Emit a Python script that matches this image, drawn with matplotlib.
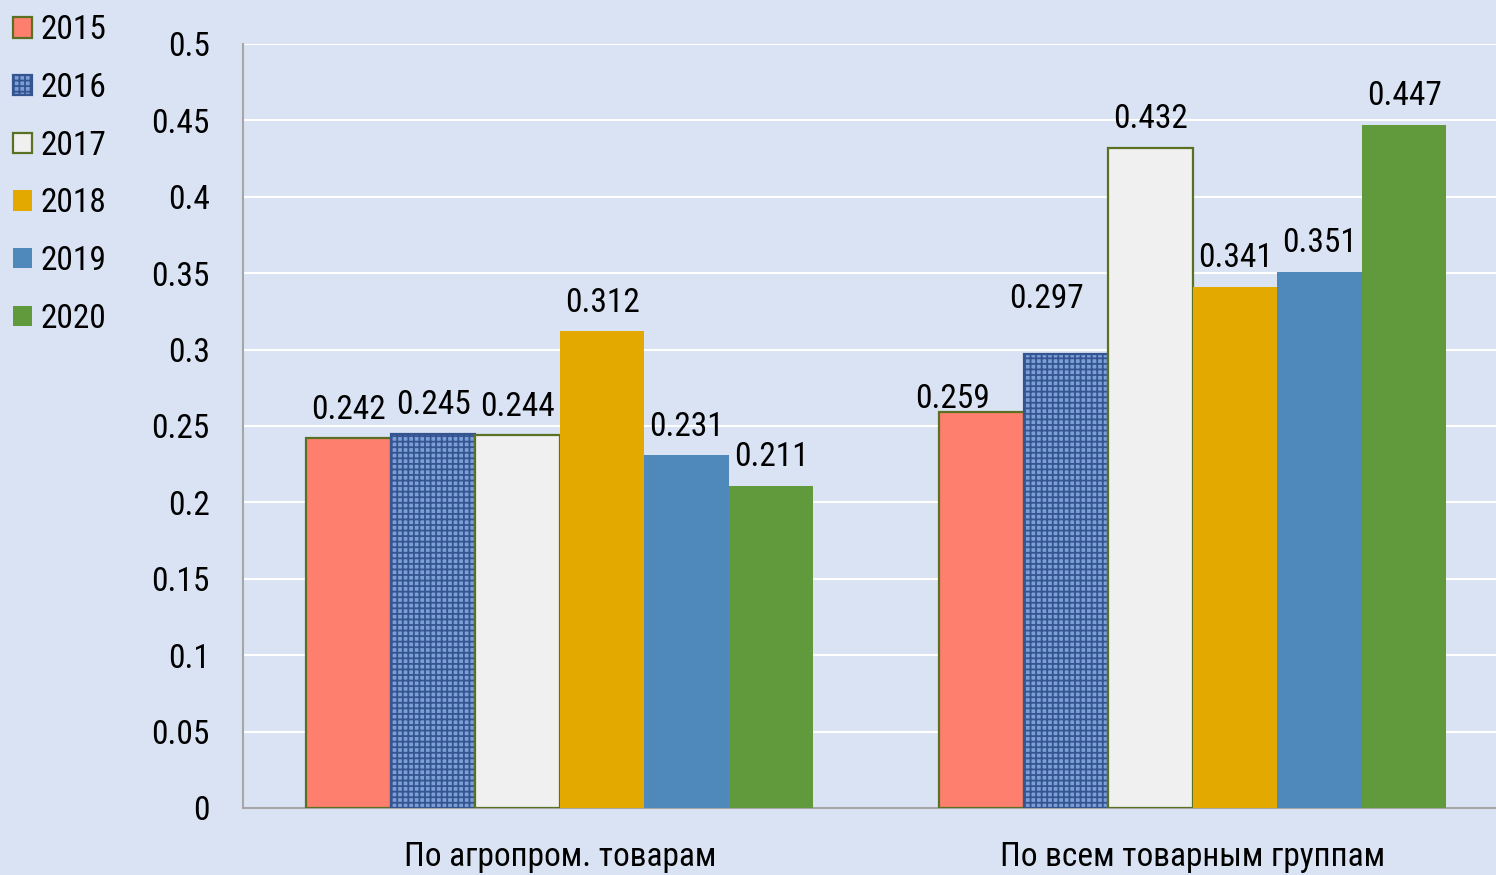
import numpy as np
import matplotlib
matplotlib.use("Agg")
import matplotlib.pyplot as plt
from matplotlib import font_manager

categories = ["По агропром. товарам", "По всем товарным группам"]
years = ["2015", "2016", "2017", "2018", "2019", "2020"]
values = {
    "2015": [0.242, 0.259],
    "2016": [0.245, 0.297],
    "2017": [0.244, 0.432],
    "2018": [0.312, 0.341],
    "2019": [0.231, 0.351],
    "2020": [0.211, 0.447],
}

fills = ["#ff7f6e", "#7d9fd8", "#f0f0f0", "#e3a900", "#4f88bb", "#619a3c"]
edges = ["#5a7023", "#34558f", "#5a7023", "none", "none", "none"]
hatches = [None, "+++", None, None, None, None]

# nudge a few labels like in the original (dx, dy in points)
nudges = {("2015", 1): (-21, -11), ("2016", 1): (-14, 19)}

# narrow font if there is one
names = {f.name for f in font_manager.fontManager.ttflist}
fsize = 24
if "Roboto Condensed" in names:
    plt.rcParams["font.family"] = ["Roboto Condensed", "DejaVu Sans"]
else:
    plt.rcParams["font.family"] = ["Liberation Sans", "DejaVu Sans"]
    fsize = 21
plt.rcParams["hatch.linewidth"] = 1.3

bg = "#dae3f3"
fig = plt.figure(figsize=(14.96, 8.75), dpi=100, facecolor=bg)
ax = fig.add_axes([243 / 1496, 1 - 808 / 875, 1 - 243 / 1496, (808 - 44) / 875])
ax.set_facecolor(bg)

x = np.arange(len(categories))
w = 0.1335
for i, yr in enumerate(years):
    pos = x + (i - 2.5) * w
    kw = dict(color=fills[i], edgecolor=edges[i], linewidth=1.6, label=yr, zorder=3)
    if hatches[i]:
        kw["hatch"] = hatches[i]
    bars = ax.bar(pos, values[yr], w, **kw)
    for j, b in enumerate(bars):
        dx, dy = nudges.get((yr, j), (0, 0))
        ax.annotate(f"{values[yr][j]:.3f}", (b.get_x() + b.get_width() / 2, b.get_height()),
                    xytext=(dx, 9 + dy), textcoords="offset points",
                    ha="center", va="bottom", fontsize=fsize, zorder=4)

ax.set_ylim(0, 0.5)
ax.set_xlim(-0.5008, 1.479)
ax.set_yticks(np.arange(0, 0.51, 0.05))
ax.set_yticklabels(["0", "0.05", "0.1", "0.15", "0.2", "0.25", "0.3", "0.35", "0.4", "0.45", "0.5"])
ax.set_xticks(x)
ax.set_xticklabels(categories)
ax.tick_params(axis="y", length=0, labelsize=fsize, pad=24)
ax.tick_params(axis="x", length=0, labelsize=fsize, pad=24)
ax.grid(axis="y", color="white", linewidth=1.5, zorder=0)
ax.set_axisbelow(True)
for s in ["top", "right"]:
    ax.spines[s].set_visible(False)
for s in ["left", "bottom"]:
    ax.spines[s].set_color("#a6a6a6")
    ax.spines[s].set_linewidth(1.5)

fig.legend(loc="upper left", bbox_to_anchor=(0.0, 0.999), frameon=False, fontsize=fsize,
           handlelength=0.57, handleheight=0.57, handletextpad=0.25, labelspacing=0.77,
           borderaxespad=0.0)

fig.savefig("out.png", dpi=100, facecolor=bg)
